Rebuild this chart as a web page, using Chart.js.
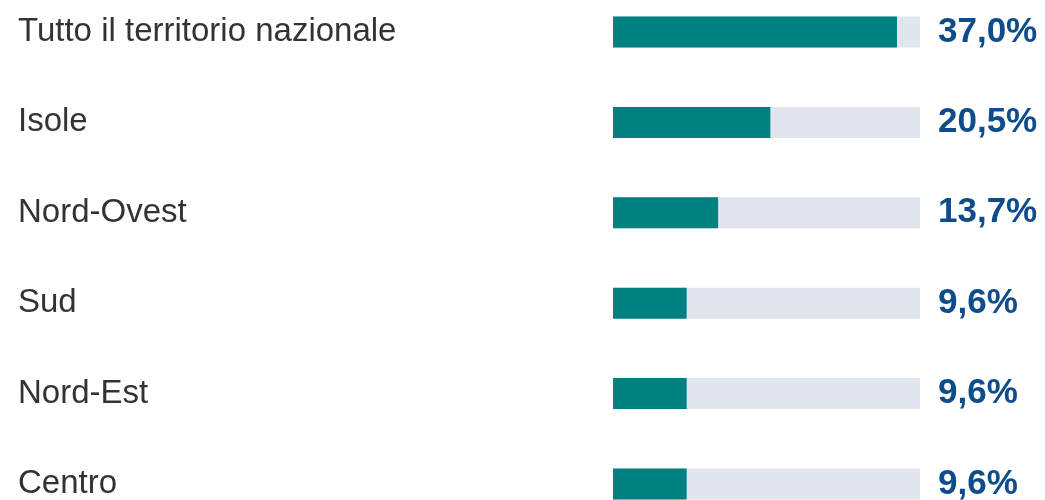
<!DOCTYPE html>
<html>
<head>
<meta charset="utf-8">
<script src="https://cdn.jsdelivr.net/npm/chart.js@4"></script>
<style>
  html, body { margin: 0; padding: 0; background: #fff; overflow: hidden; }
  #box { position: absolute; left: 0; top: -36px; width: 1045px; height: 588px; }
</style>
</head>
<body>
<div id="box"><canvas id="grafico"></canvas></div>
<script>
// Dati
const aree = ["Tutto il territorio nazionale", "Isole", "Nord-Ovest", "Sud", "Nord-Est", "Centro"];
const valori = [37.0, 20.5, 13.7, 9.6, 9.6, 9.6];
const massimo = 40;
const sfondo = aree.map(() => massimo);

const tealColor = "#008080";
const trackColor = "#E1E6EE";
const valueColor = "#0E4C8C";

// scrivo i valori a destra delle barre
const etichette = {
  id: "etichette",
  afterDatasetsDraw(chart) {
    const ctx = chart.ctx;
    const meta = chart.getDatasetMeta(0);
    ctx.save();
    ctx.font = "bold 35px 'Liberation Sans', Arial, sans-serif";
    ctx.fillStyle = valueColor;
    ctx.textAlign = "left";
    ctx.textBaseline = "middle";
    meta.data.forEach((bar, i) => {
      const testo = valori[i].toLocaleString("it-IT", { minimumFractionDigits: 1, maximumFractionDigits: 1 }) + "%";
      ctx.fillText(testo, chart.chartArea.right + 18, bar.y);
    });
    ctx.restore();
  },
};

new Chart(document.getElementById("grafico"), {
  type: "bar",
  data: {
    labels: aree,
    datasets: [
      {
        data: valori,
        backgroundColor: tealColor,
        order: 1,
        grouped: false,
        barPercentage: 0.343,
        categoryPercentage: 1,
      },
      {
        data: sfondo,
        backgroundColor: trackColor,
        order: 2,
        grouped: false,
        barPercentage: 0.343,
        categoryPercentage: 1,
      },
    ],
  },
  options: {
    indexAxis: "y",
    responsive: true,
    maintainAspectRatio: false,
    animation: false,
    layout: { padding: { left: 18, right: 125, top: 0, bottom: 0 } },
    plugins: { legend: { display: false }, tooltip: { enabled: false } },
    scales: {
      x: { min: 0, max: massimo, display: false },
      y: {
        grid: { display: false },
        border: { display: false },
        ticks: {
          crossAlign: "far",
          color: "#333333",
          font: { family: "'Liberation Sans', Arial, sans-serif", size: 33 },
        },
        afterFit(scale) {
          scale.width = 595;
        },
      },
    },
  },
  plugins: [etichette],
});
</script>
</body>
</html>
